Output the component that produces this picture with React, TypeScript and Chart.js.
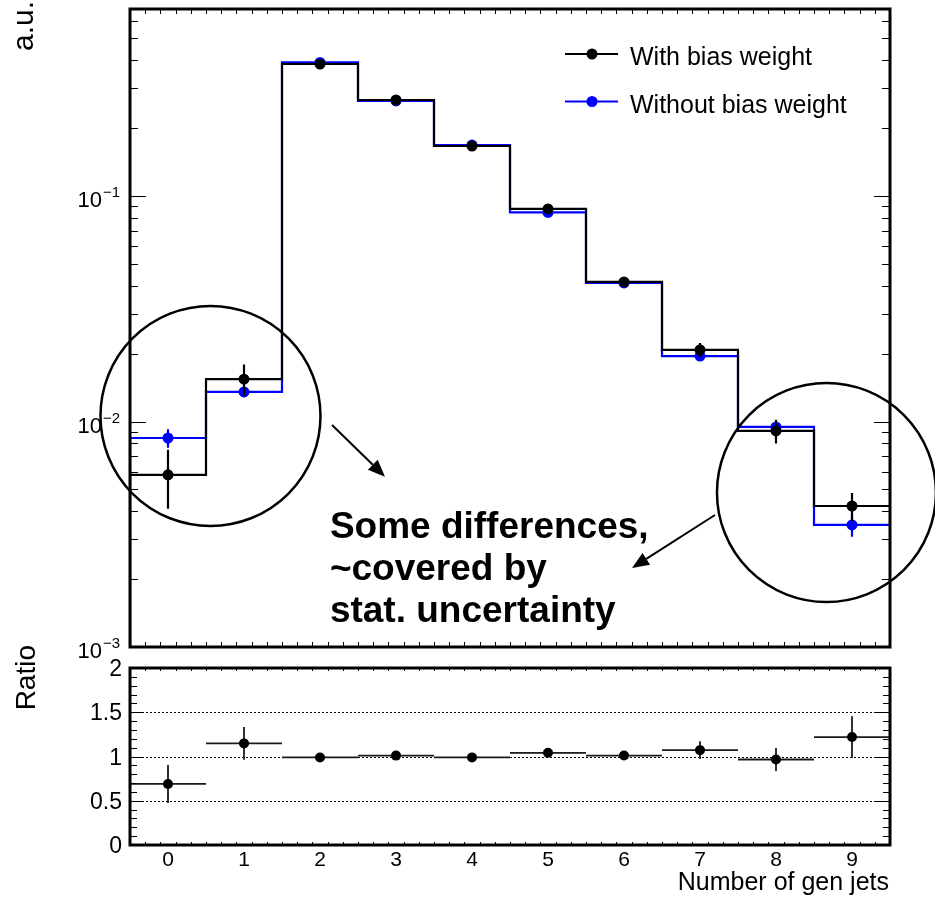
import React, { useEffect, useRef } from "react";
import { Chart, registerables } from "chart.js";

Chart.register(...registerables);

// ---------------- data ----------------
const binCenters = [0, 1, 2, 3, 4, 5, 6, 7, 8, 9];
const withBias = [0.0058, 0.0154, 0.385, 0.2665, 0.1666, 0.0876, 0.0416, 0.0208, 0.00908, 0.00422];
const withBiasErr = [0.0017, 0.0025, 0.004, 0.003, 0.002, 0.0012, 0.0008, 0.0015, 0.0011, 0.0006];
const withoutBias = [0.00845, 0.01352, 0.391, 0.2639, 0.1683, 0.0846, 0.04115, 0.0195, 0.00946, 0.00348];
const withoutBiasErr = [0.0008, 0.0007, 0.002, 0.0015, 0.001, 0.0006, 0.0004, 0.0004, 0.0004, 0.0004];
const ratioValues = [0.69, 1.148, 0.989, 1.01, 0.99, 1.042, 1.011, 1.072, 0.966, 1.22];
const ratioErr = [0.215, 0.185, 0.02, 0.025, 0.02, 0.03, 0.04, 0.1, 0.13, 0.235];

const xTickLabels = ["0", "1", "2", "3", "4", "5", "6", "7", "8", "9"];
const logDecades = [-3, -2, -1];
const ratioTicks = [0, 0.5, 1, 1.5, 2];
const ratioTickLabels = ["0", "0.5", "1", "1.5", "2"];
const ratioGridLines = [0.5, 1, 1.5];
const legendLabels = ["With bias weight", "Without bias weight"];
const legendColors = ["#000000", "#0000ff"];
const annotationLines = ["Some differences,", "~covered by", "stat. uncertainty"];
const xTitle = "Number of gen jets";
const yTitleTop = "a.u.";
const yTitleRatio = "Ratio";

const X_MIN = -0.5;
const X_MAX = 9.5;
const Y_MIN = 0.001;
const Y_MAX = 0.675;

const FONT = '"Liberation Sans", Arial, Helvetica, sans-serif';

// annotation placement (data coordinates, radii in px)
const circles = [
  { x: 0.559, y: 0.01058, r: 110 },
  { x: 8.664, y: 0.004843, r: 109.5 },
];
const arrows = [
  { x0: 2.158, y0: 0.00965, x1: 2.855, y1: 0.005691 },
  { x0: 7.197, y0: 0.003849, x1: 6.105, y1: 0.00224 },
];
const textAnchor = { x: 2.13, y: 0.003044, spacing: 42 };

function histPoints(values: number[]) {
  const pts = [{ x: X_MIN, y: Y_MIN }];
  values.forEach((v, i) => pts.push({ x: binCenters[i] - 0.5, y: v }));
  const last = values.length - 1;
  pts.push({ x: binCenters[last] + 0.5, y: values[last] });
  return pts;
}
function markerPoints(values: number[]) {
  return values.map((v, i) => ({ x: binCenters[i], y: v }));
}

function drawErrorBars(chart: any, index: number) {
  const ds: any = chart.data.datasets[index];
  if (!ds || !ds.errY) return;
  const { ctx, chartArea: a } = chart;
  const xs = chart.scales.x;
  const ys = chart.scales.y;
  ctx.save();
  ctx.beginPath();
  ctx.rect(a.left, a.top, a.right - a.left, a.bottom - a.top);
  ctx.clip();
  ctx.strokeStyle = ds.errColor;
  ctx.lineWidth = ds.errWidth;
  ctx.beginPath();
  ds.data.forEach((p: any, i: number) => {
    const px = xs.getPixelForValue(p.x);
    ctx.moveTo(px, ys.getPixelForValue(p.y - ds.errY[i]));
    ctx.lineTo(px, ys.getPixelForValue(p.y + ds.errY[i]));
    if (ds.errX) {
      const py = ys.getPixelForValue(p.y);
      ctx.moveTo(xs.getPixelForValue(p.x - ds.errX), py);
      ctx.lineTo(xs.getPixelForValue(p.x + ds.errX), py);
    }
  });
  ctx.stroke();
  ctx.restore();
}

function drawXTicks(ctx: any, xs: any, a: any, major: number, minor: number) {
  ctx.beginPath();
  for (let k = 1; k < 50; k++) {
    const v = X_MIN + k * 0.2;
    const isMajor = Math.abs(v - Math.round(v)) < 1e-6;
    const len = isMajor ? major : minor;
    const px = Math.round(xs.getPixelForValue(v)) + 0.5;
    ctx.moveTo(px, a.bottom);
    ctx.lineTo(px, a.bottom - len);
    ctx.moveTo(px, a.top);
    ctx.lineTo(px, a.top + len);
  }
  ctx.stroke();
}

function drawFrame(ctx: any, a: any) {
  ctx.lineWidth = 3;
  ctx.strokeStyle = "#000";
  ctx.strokeRect(a.left, a.top, a.right - a.left, a.bottom - a.top);
}

function drawArrow(ctx: any, x0: number, y0: number, x1: number, y1: number) {
  const ang = Math.atan2(y1 - y0, x1 - x0);
  const hl = 17;
  const hw = 7;
  const bx = x1 - hl * Math.cos(ang);
  const by = y1 - hl * Math.sin(ang);
  ctx.beginPath();
  ctx.moveTo(x0, y0);
  ctx.lineTo(bx, by);
  ctx.lineWidth = 2;
  ctx.stroke();
  ctx.beginPath();
  ctx.moveTo(x1, y1);
  ctx.lineTo(bx + hw * Math.sin(ang), by - hw * Math.cos(ang));
  ctx.lineTo(bx - hw * Math.sin(ang), by + hw * Math.cos(ang));
  ctx.closePath();
  ctx.fill();
}

const topDecor = {
  id: "topDecor",
  beforeDatasetDraw(chart: any, args: any) {
    drawErrorBars(chart, args.index);
  },
  afterDraw(chart: any) {
    const { ctx, chartArea: a } = chart;
    const xs = chart.scales.x;
    const ys = chart.scales.y;
    ctx.save();
    ctx.strokeStyle = "#000";
    ctx.fillStyle = "#000";
    ctx.lineWidth = 1;
    drawXTicks(ctx, xs, a, 10, 5);
    // log y ticks
    ctx.beginPath();
    for (let e = -3; e <= 0; e++) {
      for (let m = 1; m <= 9; m++) {
        const v = m * Math.pow(10, e);
        if (v < Y_MIN - 1e-12 || v > Y_MAX) continue;
        const len = m === 1 ? 16 : 8;
        const py = Math.round(ys.getPixelForValue(v)) + 0.5;
        ctx.moveTo(a.left, py);
        ctx.lineTo(a.left + len, py);
        ctx.moveTo(a.right, py);
        ctx.lineTo(a.right - len, py);
      }
    }
    ctx.stroke();
    drawFrame(ctx, a);

    // y tick labels 10^e
    logDecades.forEach((e) => {
      const py = ys.getPixelForValue(Math.pow(10, e));
      ctx.font = `22px ${FONT}`;
      ctx.textAlign = "right";
      ctx.textBaseline = "alphabetic";
      ctx.fillText("10", 102, py + 11);
      ctx.font = `15px ${FONT}`;
      ctx.textAlign = "left";
      ctx.fillText("\u2212" + String(Math.abs(e)), 103, py + 1);
    });

    // y title
    ctx.save();
    ctx.translate(33, 1);
    ctx.rotate(-Math.PI / 2);
    ctx.font = `30px ${FONT}`;
    ctx.textAlign = "right";
    ctx.textBaseline = "alphabetic";
    ctx.fillText(yTitleTop, 0, 0);
    ctx.restore();

    // legend
    legendLabels.forEach((lab, i) => {
      const cy = 54 + i * 47.5;
      ctx.strokeStyle = legendColors[i];
      ctx.fillStyle = legendColors[i];
      ctx.lineWidth = 2;
      ctx.beginPath();
      ctx.moveTo(565, cy);
      ctx.lineTo(618, cy);
      ctx.stroke();
      ctx.beginPath();
      ctx.arc(592, cy, 5.5, 0, Math.PI * 2);
      ctx.fill();
      ctx.fillStyle = "#000";
      ctx.font = `25px ${FONT}`;
      ctx.textAlign = "left";
      ctx.textBaseline = "alphabetic";
      ctx.fillText(lab, 630, cy + 11);
    });

    // annotations
    ctx.strokeStyle = "#000";
    ctx.fillStyle = "#000";
    ctx.lineWidth = 2.5;
    circles.forEach((c) => {
      ctx.beginPath();
      ctx.arc(xs.getPixelForValue(c.x), ys.getPixelForValue(c.y), c.r, 0, Math.PI * 2);
      ctx.stroke();
    });
    arrows.forEach((ar) => {
      drawArrow(
        ctx,
        xs.getPixelForValue(ar.x0),
        ys.getPixelForValue(ar.y0),
        xs.getPixelForValue(ar.x1),
        ys.getPixelForValue(ar.y1)
      );
    });
    ctx.font = `bold 37px ${FONT}`;
    ctx.textAlign = "left";
    ctx.textBaseline = "alphabetic";
    const tx = xs.getPixelForValue(textAnchor.x);
    const ty = ys.getPixelForValue(textAnchor.y);
    annotationLines.forEach((line, i) => {
      ctx.fillText(line, tx, ty + i * textAnchor.spacing);
    });
    ctx.restore();
  },
};

const ratioDecor = {
  id: "ratioDecor",
  beforeDatasetsDraw(chart: any) {
    const { ctx, chartArea: a } = chart;
    const ys = chart.scales.y;
    ctx.save();
    ctx.strokeStyle = "#000";
    ctx.lineWidth = 1.2;
    ctx.setLineDash([2, 2]);
    ctx.beginPath();
    ratioGridLines.forEach((v) => {
      const py = Math.round(ys.getPixelForValue(v)) + 0.5;
      ctx.moveTo(a.left, py);
      ctx.lineTo(a.right, py);
    });
    ctx.stroke();
    ctx.restore();
  },
  beforeDatasetDraw(chart: any, args: any) {
    drawErrorBars(chart, args.index);
  },
  afterDraw(chart: any) {
    const { ctx, chartArea: a } = chart;
    const xs = chart.scales.x;
    const ys = chart.scales.y;
    ctx.save();
    ctx.strokeStyle = "#000";
    ctx.fillStyle = "#000";
    ctx.lineWidth = 1;
    drawXTicks(ctx, xs, a, 6, 3);
    ctx.beginPath();
    for (let k = 1; k < 20; k++) {
      const v = k * 0.1;
      const len = k % 5 === 0 ? 14 : 7;
      const py = Math.round(ys.getPixelForValue(v)) + 0.5;
      ctx.moveTo(a.left, py);
      ctx.lineTo(a.left + len, py);
      ctx.moveTo(a.right, py);
      ctx.lineTo(a.right - len, py);
    }
    ctx.stroke();
    drawFrame(ctx, a);

    ctx.font = `23px ${FONT}`;
    ctx.textAlign = "right";
    ctx.textBaseline = "alphabetic";
    ratioTicks.forEach((v, i) => {
      ctx.fillText(ratioTickLabels[i], 122, ys.getPixelForValue(v) + 8);
    });
    ctx.font = `21px ${FONT}`;
    ctx.textAlign = "center";
    binCenters.forEach((v, i) => {
      ctx.fillText(xTickLabels[i], xs.getPixelForValue(v), a.bottom + 21);
    });
    ctx.font = `25px ${FONT}`;
    ctx.textAlign = "right";
    ctx.fillText(xTitle, 889, a.bottom + 45);

    ctx.save();
    ctx.translate(35, 15);
    ctx.rotate(-Math.PI / 2);
    ctx.font = `28px ${FONT}`;
    ctx.textAlign = "right";
    ctx.fillText(yTitleRatio, 0, 0);
    ctx.restore();
    ctx.restore();
  },
};

export default function App() {
  const topRef = useRef<HTMLCanvasElement>(null);
  const ratioRef = useRef<HTMLCanvasElement>(null);

  useEffect(() => {
    const common = {
      responsive: false,
      animation: false as const,
      devicePixelRatio: 1,
      events: [] as any[],
      plugins: { legend: { display: false }, tooltip: { enabled: false } },
    };
    const top = new Chart(topRef.current as HTMLCanvasElement, {
      type: "line",
      data: {
        datasets: [
          {
            data: markerPoints(withBias),
            showLine: false,
            pointRadius: 5.5,
            pointHoverRadius: 5.5,
            pointBorderWidth: 0,
            pointBackgroundColor: "#000",
            pointBorderColor: "#000",
            borderColor: "#000",
            errY: withBiasErr,
            errColor: "#000",
            errWidth: 2.2,
          } as any,
          {
            data: histPoints(withBias),
            borderColor: "#000",
            borderWidth: 2.2,
            pointRadius: 0,
            stepped: true,
            fill: false,
            tension: 0,
          },
          {
            data: markerPoints(withoutBias),
            showLine: false,
            pointRadius: 5.5,
            pointHoverRadius: 5.5,
            pointBorderWidth: 0,
            pointBackgroundColor: "#0000ff",
            pointBorderColor: "#0000ff",
            borderColor: "#0000ff",
            errY: withoutBiasErr,
            errColor: "#0000ff",
            errWidth: 2.2,
          } as any,
          {
            data: histPoints(withoutBias),
            borderColor: "#0000ff",
            borderWidth: 2.2,
            pointRadius: 0,
            stepped: true,
            fill: false,
            tension: 0,
          },
        ],
      },
      options: {
        ...common,
        layout: { padding: { left: 130, right: 45, top: 9, bottom: 13 } },
        scales: {
          x: { type: "linear", min: X_MIN, max: X_MAX, display: false },
          y: { type: "logarithmic", min: Y_MIN, max: Y_MAX, display: false },
        },
      } as any,
      plugins: [topDecor],
    });

    const ratio = new Chart(ratioRef.current as HTMLCanvasElement, {
      type: "line",
      data: {
        datasets: [
          {
            data: markerPoints(ratioValues),
            showLine: false,
            pointRadius: 5,
            pointHoverRadius: 5,
            pointBorderWidth: 0,
            pointBackgroundColor: "#000",
            pointBorderColor: "#000",
            borderColor: "#000",
            errY: ratioErr,
            errX: 0.5,
            errColor: "#1a1a1a",
            errWidth: 1.8,
          } as any,
        ],
      },
      options: {
        ...common,
        layout: { padding: { left: 130, right: 45, top: 38, bottom: 56 } },
        scales: {
          x: { type: "linear", min: X_MIN, max: X_MAX, display: false },
          y: { type: "linear", min: 0, max: 2, display: false },
        },
      } as any,
      plugins: [ratioDecor],
    });

    return () => {
      top.destroy();
      ratio.destroy();
    };
  }, []);

  return (
    <div style={{ position: "absolute", left: 0, top: 0, width: 935, height: 901, background: "#fff" }}>
      <canvas ref={topRef} width={935} height={660} style={{ position: "absolute", left: 0, top: 0 }} />
      <canvas ref={ratioRef} width={935} height={271} style={{ position: "absolute", left: 0, top: 630 }} />
    </div>
  );
}
